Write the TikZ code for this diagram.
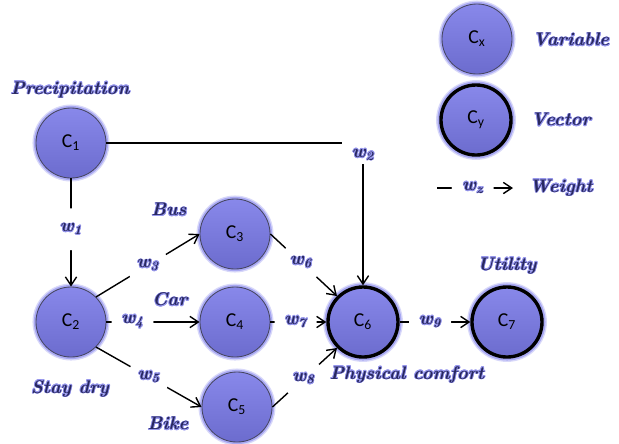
\documentclass[tikz,border=0pt]{standalone}
\usepackage{fontspec}
\usepackage{contour}
\newfontfamily\cfont{Carlito}
\usetikzlibrary{arrows.meta}

\definecolor{nodetop}{RGB}{136,136,234}
\definecolor{nodebot}{RGB}{108,108,206}
\definecolor{halo}{RGB}{168,168,242}
\definecolor{rim}{RGB}{70,70,96}
\definecolor{ink}{RGB}{40,40,96}
\definecolor{textglow}{RGB}{150,150,236}

\contourlength{0.5pt}
\newcommand{\lblfont}{\fontsize{13}{15}\selectfont\bfseries\itshape}
\newcommand{\glow}[1]{\contour{textglow}{#1}}

\tikzset{
	concept/.style={circle, minimum size=1.75cm, inner sep=0pt, top color=nodetop, bottom color=nodebot,
		draw=rim, line width=0.6pt, preaction={draw=halo!45, line width=5pt}, preaction={draw=halo, line width=3pt},
		font=\cfont\fontsize{14}{16}\selectfont},
	vector/.style={concept, draw=black, line width=2.4pt, preaction={draw=halo!45, line width=7pt}, preaction={draw=halo, line width=5pt}},
	link/.style={line width=1pt, -{Straight Barb[length=6pt,width=8pt]}},
	wgap/.style={circle, fill=white, minimum size=1.05cm, inner sep=0pt, text=ink, font=\lblfont},
	caption/.style={text=ink, font=\lblfont}
}

\begin{document}
\begin{tikzpicture}[x=0.025cm, y=-0.025cm]
		\useasboundingbox (0,0) rectangle (619,443);
		
		\node[concept] (C1) at (71,143) {C\textsubscript{1}};
		\node[concept] (C2) at (71,322) {C\textsubscript{2}};
		\node[concept] (C3) at (235,234) {C\textsubscript{3}};
		\node[concept] (C4) at (235,322) {C\textsubscript{4}};
		\node[concept] (C5) at (237,407) {C\textsubscript{5}};
		\node[vector] (C6) at (363,322) {C\textsubscript{6}};
		\node[vector] (C7) at (507,322) {C\textsubscript{7}};
		
		\draw[link] (C1) -- node[wgap, pos=0.47] {\glow{w\textsubscript{1}}} (C2);
		\draw[link] (C1.east) -| node[wgap, pos=0.5, label={[caption, yshift=-0.3cm]center:\glow{w\textsubscript{2}}}] {} (C6.north);
		\draw[link] (C2.45) -- node[wgap] {\glow{w\textsubscript{3}}} (C3.west);
		\draw[link] (C2) -- node[wgap, pos=0.28] {\glow{w\textsubscript{4}}} (C4);
		\draw[link] (C2.-45) -- node[wgap] {\glow{w\textsubscript{5}}} (C5.west);
		\draw[link] (C3.east) -- node[wgap, pos=0.46] {\glow{w\textsubscript{6}}} (C6.135);
		\draw[link] (C4) -- node[wgap, pos=0.45] {\glow{w\textsubscript{7}}} (C6);
		\draw[link] (C5.east) -- node[wgap, pos=0.48] {\glow{w\textsubscript{8}}} (C6.-135);
		\draw[link] (C6) -- node[wgap, pos=0.43] {\glow{w\textsubscript{9}}} (C7);
		
		\node[caption] (precip) at (70,90) {\glow{Precipitation}};
		\node[caption] (dry) at (70,389) {\glow{Stay dry}};
		\node[caption] (bus) at (169,210) {\glow{Bus}};
		\node[caption] (car) at (170,300) {\glow{Car}};
		\node[caption] (bike) at (168,424) {\glow{Bike}};
		\node[caption] (comfort) at (407,375) {\glow{Physical comfort}};
		\node[caption] (utility) at (507,266) {\glow{Utility}};
		
		% legend
		\node[concept] (Cx) at (477,39) {C\textsubscript{x}};
		\node[vector] (Cy) at (476,120) {C\textsubscript{y}};
		\coordinate (wa) at (437,188);
		\coordinate (wb) at (513,188);
		\draw[link] (wa) -- node[wgap, pos=0.47] {\glow{w\textsubscript{z}}} (wb);
		\node[caption] (variable) at (571,40) {\glow{Variable}};
		\node[caption] (vec) at (561,120) {\glow{Vector}};
		\node[caption] (weight) at (561,188) {\glow{Weight}};
	\end{tikzpicture}
\end{document}
